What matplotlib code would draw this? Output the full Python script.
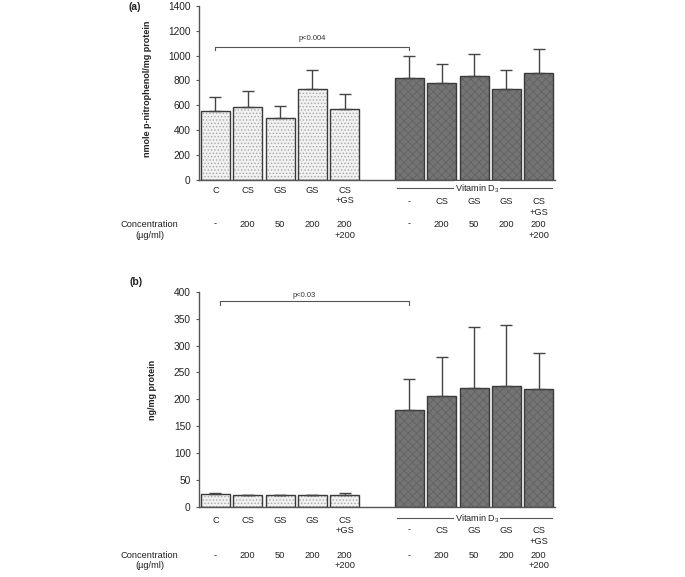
import matplotlib
matplotlib.use('Agg')
import matplotlib.pyplot as plt
from matplotlib.transforms import offset_copy

plt.rcParams['font.family'] = ['Liberation Sans', 'DejaVu Sans']
plt.rcParams['mathtext.default'] = 'regular'
plt.rcParams['hatch.linewidth'] = 0.6

# category labels
ctrl_labels = ['C', 'CS', 'GS', 'GS', 'CS\n+GS']
vitd_labels = ['-', 'CS', 'GS', 'GS', 'CS\n+GS']
conc_labels = ['-', '200', '50', '200', '200\n+200']

# (a) ALP activity, nmole p-nitrophenol/mg protein
alp_ctrl = [555, 590, 496, 732, 571]
alp_ctrl_err = [115, 126, 99, 150, 123]
alp_vitd = [818, 783, 834, 732, 863]
alp_vitd_err = [177, 148, 182, 150, 191]

# (b) ng/mg protein
ocn_ctrl = [24, 22, 22, 22, 22]
ocn_ctrl_err = [1.5, 1, 1, 1, 3.5]
ocn_vitd = [180, 206, 222, 225, 219]
ocn_vitd_err = [57, 72, 113, 113, 67]

x_ctrl = [0, 1, 2, 3, 4]
x_vitd = [6, 7, 8, 9, 10]

fig = plt.figure(figsize=(6.85, 5.77), dpi=100)
ax_a = fig.add_axes([0.2905, 0.688, 0.5197, 0.302])
ax_b = fig.add_axes([0.2905, 0.1213, 0.5197, 0.3731])


def draw_bars(ax, x, vals, err, face, hatch, hcol):
    ax.bar(x, vals, width=0.9, color=face, edgecolor=hcol, hatch=hatch, linewidth=0, zorder=2)
    ax.bar(x, vals, width=0.9, fill=False, edgecolor='#3a3a3a', linewidth=1, zorder=3)
    ax.errorbar(x, vals, yerr=[[0] * len(err), err], fmt='none', ecolor='#444444',
                elinewidth=1, capsize=4.3, capthick=1, zorder=4)


def text_below(ax, x, dy, s, size=6.7):
    tr = offset_copy(ax.get_xaxis_transform(), fig=fig, x=0, y=-dy, units='dots')
    ax.text(x, 0, s, transform=tr, ha='center', va='center', fontsize=size,
            color='#222222', clip_on=False)


def panel(ax, ctrl, ctrl_err, vitd, vitd_err, ymax, ystep, ylabel, p_text,
          p_y, p_left, p_tx, p_ty, rows, lab_x):
    draw_bars(ax, x_ctrl, ctrl, ctrl_err, '#f1f1f1', '.....', '#a8a8a8')
    draw_bars(ax, x_vitd, vitd, vitd_err, '#747474', 'xxxx', '#626262')

    ax.set_xlim(-0.51, 10.5)
    ax.set_ylim(0, ymax)
    ax.set_yticks(range(0, ymax + 1, ystep))
    ax.set_xticks([])
    for s in ['top', 'right']:
        ax.spines[s].set_visible(False)
    for s in ['left', 'bottom']:
        ax.spines[s].set_color('#555555')
        ax.spines[s].set_linewidth(1)
    ax.tick_params(axis='y', direction='out', length=2.5, width=0.8,
                   colors='#555555', labelcolor='#222222', labelsize=7.3)

    ax.set_ylabel(ylabel, fontsize=6.5, fontweight='bold', color='#222222')
    ax.yaxis.set_label_coords(lab_x[0], lab_x[1])

    # significance bracket
    d = ymax * 0.018
    ax.plot([p_left, p_left, 6, 6], [p_y - d, p_y, p_y, p_y - d],
            color='#555555', lw=0.8, zorder=1)
    ax.text(p_tx, p_ty, p_text, ha='center', va='center', fontsize=5.5, color='#333333')

    r1, r2, vline, v1, v2, c1, c2 = rows
    # control group labels
    for xi, lab in zip(x_ctrl, ctrl_labels):
        lines = lab.split('\n')
        text_below(ax, xi, r1, lines[0])
        if len(lines) > 1:
            text_below(ax, xi, r2, lines[1])
    # vitamin D3 group labels
    for xi, lab in zip(x_vitd, vitd_labels):
        lines = lab.split('\n')
        text_below(ax, xi, v1, lines[0])
        if len(lines) > 1:
            text_below(ax, xi, v2, lines[1])
    # concentrations
    for xi, lab in zip(x_ctrl + x_vitd, conc_labels + conc_labels):
        lines = lab.split('\n')
        text_below(ax, xi, c1, lines[0])
        if len(lines) > 1:
            text_below(ax, xi, c2, lines[1])
    text_below(ax, -2.03, c1, 'Concentration')
    text_below(ax, -2.03, c2, '(µg/ml)')

    # Vitamin D3 line
    tr = offset_copy(ax.get_xaxis_transform(), fig=fig, x=0, y=-vline, units='dots')
    ax.plot([5.6, 10.4], [0, 0], transform=tr, color='#555555', lw=0.8, clip_on=False)
    ax.text(8.09, 0, 'Vitamin D$_3$', transform=tr, ha='center', va='center',
            fontsize=6.6, color='#222222', clip_on=False,
            bbox=dict(facecolor='white', edgecolor='none', pad=0.5))


panel(ax_a, alp_ctrl, alp_ctrl_err, alp_vitd, alp_vitd_err, 1400, 200,
      'nmole p-nitrophenol/mg protein', 'p<0.004', 1072, 0, 2.98, 1134,
      (10, 20.7, 8.3, 21.7, 32.3, 44, 55), (-0.132, 0.523))
panel(ax_b, ocn_ctrl, ocn_ctrl_err, ocn_vitd, ocn_vitd_err, 400, 50,
      'ng/mg protein', 'p<0.03', 382, 0.14, 2.74, 393,
      (13, 23, 11.3, 23, 34.7, 48.7, 58.7), (-0.118, 0.543))

fig.text(135 / 685, 1 - 6.5 / 577, '(a)', ha='center', va='center',
         fontsize=7.5, fontweight='bold', color='#222222')
fig.text(136 / 685, 1 - 282 / 577, '(b)', ha='center', va='center',
         fontsize=7.5, fontweight='bold', color='#222222')

fig.savefig('out.png', dpi=100)
